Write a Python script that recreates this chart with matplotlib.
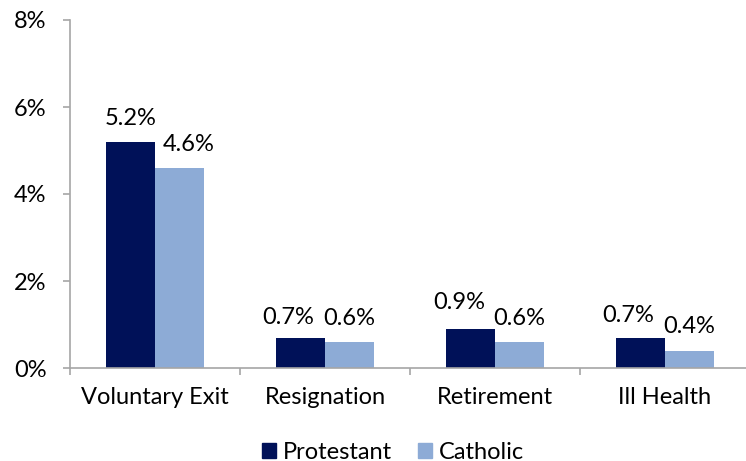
import numpy as np
import matplotlib.pyplot as plt
from matplotlib.patches import Patch
from matplotlib.ticker import FuncFormatter

categories = ["Voluntary Exit", "Resignation", "Retirement", "Ill Health"]
protestant = [5.2, 0.7, 0.9, 0.7]
catholic = [4.6, 0.6, 0.6, 0.4]

# hand nudges of the value labels (pixels), as in the original
prot_dx = [0, -12, -11, -12]
prot_dy = [0, -4, 3, -2]
cath_dx = [9, 0, 0, 0]
cath_dy = [0, 0, 0, 0]

navy = "#001158"
light = "#8dabd6"
axis_grey = "#a6a6a6"
fs = 17

plt.rcParams["font.family"] = ["Lato", "DejaVu Sans"]

fig = plt.figure(figsize=(7.46, 4.61), dpi=100)
ax = fig.add_axes([70 / 746, 93 / 461, 680 / 746, 348 / 461])

x = np.arange(len(categories))
w = 0.29
b1 = ax.bar(x - w / 2, protestant, w, color=navy)
b2 = ax.bar(x + w / 2, catholic, w, color=light)

# value labels above each bar
px2pt = 0.72
for bars, vals, dxs, dys in ((b1, protestant, prot_dx, prot_dy),
                             (b2, catholic, cath_dx, cath_dy)):
    for r, v, dx, dy in zip(bars, vals, dxs, dys):
        ax.annotate(f"{v:.1f}%", (r.get_x() + r.get_width() / 2, v),
                    xytext=(dx * px2pt, 9.5 + dy * px2pt), textcoords="offset points",
                    ha="center", va="bottom", fontsize=fs)

ax.set_xlim(-0.5, 3.5)
ax.set_ylim(0, 8)
ax.set_yticks([0, 2, 4, 6, 8])
ax.yaxis.set_major_formatter(FuncFormatter(lambda v, p: f"{v:.0f}%"))
ax.set_xticks(x)
ax.set_xticklabels(categories)
ax.set_xticks(np.arange(-0.5, 4.0, 1.0), minor=True)
ax.tick_params(axis="x", which="major", length=0, pad=14, labelsize=fs)
ax.tick_params(axis="x", which="minor", length=5, color=axis_grey, width=1.2)
ax.tick_params(axis="y", length=5, color=axis_grey, width=1.2, labelsize=fs, pad=12)

for s in ("top", "right"):
    ax.spines[s].set_visible(False)
for s in ("left", "bottom"):
    ax.spines[s].set_color(axis_grey)
    ax.spines[s].set_linewidth(1.2)

handles = [Patch(color=navy, label="Protestant"), Patch(color=light, label="Catholic")]
fig.legend(handles=handles, loc="center", bbox_to_anchor=(393 / 746, 1 - 452 / 461),
           ncol=2, frameon=False, fontsize=fs, handlelength=0.6, handleheight=0.6,
           handletextpad=0.3, columnspacing=1.1)

fig.savefig("out.png", dpi=100)
